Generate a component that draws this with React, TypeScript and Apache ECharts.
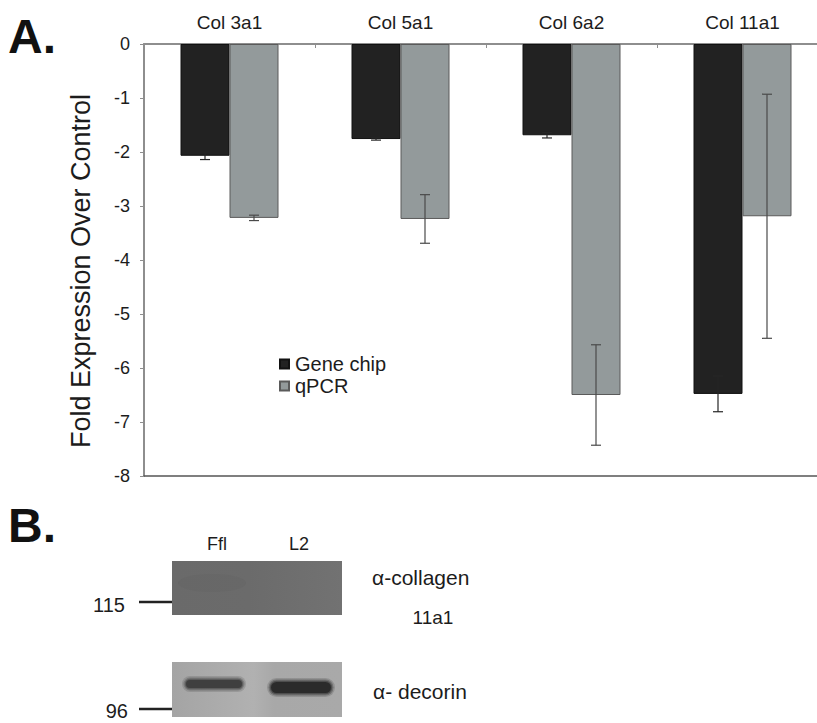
import React, { useEffect, useRef } from "react";
import * as echarts from "echarts";

const categories = ["Col 3a1", "Col 5a1", "Col 6a2", "Col 11a1"];
const geneChip = [-2.07, -1.76, -1.69, -6.48];
const geneChipErr = [0.07, 0.02, 0.05, 0.33];
const qpcr = [-3.22, -3.24, -6.5, -3.19];
const qpcrErr = [0.05, 0.45, 0.93, 2.26];
const yMin = -8;
const yMax = 0;
const yStep = 1;
const seriesNames = ["Gene chip", "qPCR"];

const laneLabels = ["Ffl", "L2"];
const markerLabels = ["115", "96"];
const antibodyLabels = ["α-collagen", "11a1", "α- decorin"];
const panelLabels = ["A.", "B."];

const FONT = "'Liberation Sans', Arial, Helvetica, sans-serif";
const TEXT = "#1c1c1c";
const BAR_W = 49;

function errData(vals: number[], errs: number[]) {
  return vals.map((v, i) => [i, v - errs[i], v + errs[i]]);
}

function errSeries(name: string, vals: number[], errs: number[], side: number, color: string) {
  return {
    type: "custom",
    name: name + " error",
    z: 5,
    silent: true,
    data: errData(vals, errs),
    renderItem: (params: any, api: any) => {
      const idx = api.value(0);
      const lo = api.coord([idx, api.value(1)]);
      const hi = api.coord([idx, api.value(2)]);
      const x = lo[0] + side * (BAR_W / 2);
      const cap = 5;
      const st = { stroke: color, lineWidth: 1.2 };
      return {
        type: "group",
        children: [
          { type: "line", shape: { x1: x, y1: lo[1], x2: x, y2: hi[1] }, style: st },
          { type: "line", shape: { x1: x - cap, y1: lo[1], x2: x + cap, y2: lo[1] }, style: st },
          { type: "line", shape: { x1: x - cap, y1: hi[1], x2: x + cap, y2: hi[1] }, style: st },
        ],
      };
    },
  };
}

function band(x: number, y: number, w: number, h: number, core: string, els: any[]) {
  // soft halo layers to mimic a fuzzy blot band
  const layers = [
    { g: 4, o: 0.18 },
    { g: 2.5, o: 0.3 },
    { g: 1.2, o: 0.45 },
  ];
  layers.forEach((l) => {
    els.push({
      type: "rect",
      shape: { x: x - l.g, y: y - l.g, width: w + 2 * l.g, height: h + 2 * l.g, r: (h + 2 * l.g) / 2 },
      style: { fill: core, opacity: l.o },
    });
  });
  els.push({ type: "rect", shape: { x, y, width: w, height: h, r: h / 2 }, style: { fill: core, opacity: 0.85 } });
}

function blotGraphics() {
  const els: any[] = [];
  els.push({
    type: "text", x: 8, y: 36,
    style: { text: panelLabels[0], font: `bold 48px ${FONT}`, fill: "#111", verticalAlign: "middle" },
  });
  els.push({
    type: "text", x: 8, y: 525,
    style: { text: panelLabels[1], font: `bold 48px ${FONT}`, fill: "#111", verticalAlign: "middle" },
  });
  els.push({ type: "text", x: 217, y: 544, style: { text: laneLabels[0], font: `18px ${FONT}`, fill: TEXT, align: "center", verticalAlign: "middle" } });
  els.push({ type: "text", x: 299, y: 544, style: { text: laneLabels[1], font: `18px ${FONT}`, fill: TEXT, align: "center", verticalAlign: "middle" } });
  // collagen blot
  els.push({
    type: "rect", shape: { x: 172, y: 561, width: 170, height: 54 },
    style: {
      fill: new echarts.graphic.LinearGradient(0, 0, 1, 0, [
        { offset: 0, color: "#6a6a6a" },
        { offset: 0.45, color: "#6b6b6b" },
        { offset: 1, color: "#727272" },
      ]),
    },
  });
  els.push({
    type: "ellipse", shape: { cx: 212, cy: 583, rx: 34, ry: 9 },
    style: { fill: "#5f5f5f", opacity: 0.25 },
  });
  // decorin blot
  els.push({
    type: "rect", shape: { x: 172, y: 662, width: 170, height: 55 },
    style: {
      fill: new echarts.graphic.LinearGradient(0, 0, 1, 0, [
        { offset: 0, color: "#a4a4a4" },
        { offset: 0.48, color: "#b1b1b1" },
        { offset: 0.6, color: "#a8a8a8" },
        { offset: 1, color: "#a9a9a9" },
      ]),
    },
  });
  band(186, 680, 56, 8, "#3a3a3a", els);
  band(271, 682, 60, 11, "#262626", els);
  els.push({ type: "line", shape: { x1: 139, y1: 602, x2: 172, y2: 602 }, style: { stroke: "#222", lineWidth: 2.5 } });
  els.push({ type: "line", shape: { x1: 139, y1: 709, x2: 172, y2: 709 }, style: { stroke: "#222", lineWidth: 2.5 } });
  els.push({ type: "text", x: 125, y: 605, style: { text: markerLabels[0], font: `20px ${FONT}`, fill: TEXT, align: "right", verticalAlign: "middle" } });
  els.push({ type: "text", x: 128, y: 711, style: { text: markerLabels[1], font: `20px ${FONT}`, fill: TEXT, align: "right", verticalAlign: "middle" } });
  els.push({ type: "text", x: 372, y: 577, style: { text: antibodyLabels[0], font: `21px ${FONT}`, fill: TEXT, align: "left", verticalAlign: "middle" } });
  els.push({ type: "text", x: 433, y: 617, style: { text: antibodyLabels[1], font: `19px ${FONT}`, fill: TEXT, align: "center", verticalAlign: "middle" } });
  els.push({ type: "text", x: 373, y: 691, style: { text: antibodyLabels[2], font: `21px ${FONT}`, fill: TEXT, align: "left", verticalAlign: "middle" } });
  return els;
}

export default function App() {
  const ref = useRef<HTMLDivElement>(null);
  useEffect(() => {
    if (!ref.current) return;
    const chart = echarts.init(ref.current, null, { renderer: "svg" });
    const axisGray = "#8e8e8e";
    chart.setOption({
      animation: false,
      backgroundColor: "#ffffff",
      textStyle: { fontFamily: FONT },
      grid: { left: 144, top: 44, width: 684, height: 432, containLabel: false, outerBoundsMode: "none" },
      legend: {
        data: seriesNames,
        orient: "vertical",
        left: 274,
        top: 349,
        itemWidth: 9,
        itemHeight: 9,
        itemGap: 2,
        icon: "rect",
        textStyle: { fontSize: 20, color: TEXT, fontFamily: FONT, padding: [0, 0, 0, 1] },
        selectedMode: false,
      },
      xAxis: [
        {
          type: "category",
          data: categories,
          position: "top",
          axisLine: { onZero: false, lineStyle: { color: axisGray, width: 2 } },
          axisTick: { show: true, inside: true, length: 4, lineStyle: { color: axisGray } },
          axisLabel: { fontSize: 19, color: TEXT, margin: 12, fontFamily: FONT },
        },
        {
          type: "category",
          data: categories,
          position: "bottom",
          axisLine: { onZero: false, lineStyle: { color: "#555", width: 1.5 } },
          axisTick: { show: false },
          axisLabel: { show: false },
        },
      ],
      yAxis: {
        type: "value",
        min: yMin,
        max: yMax,
        interval: yStep,
        name: "Fold Expression Over Control",
        nameLocation: "middle",
        nameGap: 50,
        nameRotate: 90,
        nameTextStyle: { fontSize: 27, color: TEXT, fontFamily: FONT, padding: [0, 22, 0, 0] },
        axisLine: { show: true, lineStyle: { color: axisGray, width: 2 } },
        axisTick: { show: true, length: 4, lineStyle: { color: axisGray } },
        splitLine: { show: false },
        axisLabel: { fontSize: 18, color: TEXT, margin: 14, fontFamily: FONT },
      },
      series: [
        {
          type: "bar",
          name: seriesNames[0],
          data: geneChip,
          barWidth: BAR_W,
          barGap: "0%",
          itemStyle: { color: "#222222", borderColor: "#111111", borderWidth: 1 },
        },
        {
          type: "bar",
          name: seriesNames[1],
          data: qpcr,
          barWidth: BAR_W,
          barGap: "0%",
          itemStyle: { color: "#939a9b", borderColor: "#5a5a5a", borderWidth: 1 },
        },
        errSeries(seriesNames[0], geneChip, geneChipErr, -1, "#262626"),
        errSeries(seriesNames[1], qpcr, qpcrErr, 1, "#4a4a4a"),
      ],
      graphic: blotGraphics(),
    });
    return () => chart.dispose();
  }, []);
  return <div ref={ref} style={{ position: "absolute", left: 0, top: 0, width: 817, height: 723 }} />;
}
